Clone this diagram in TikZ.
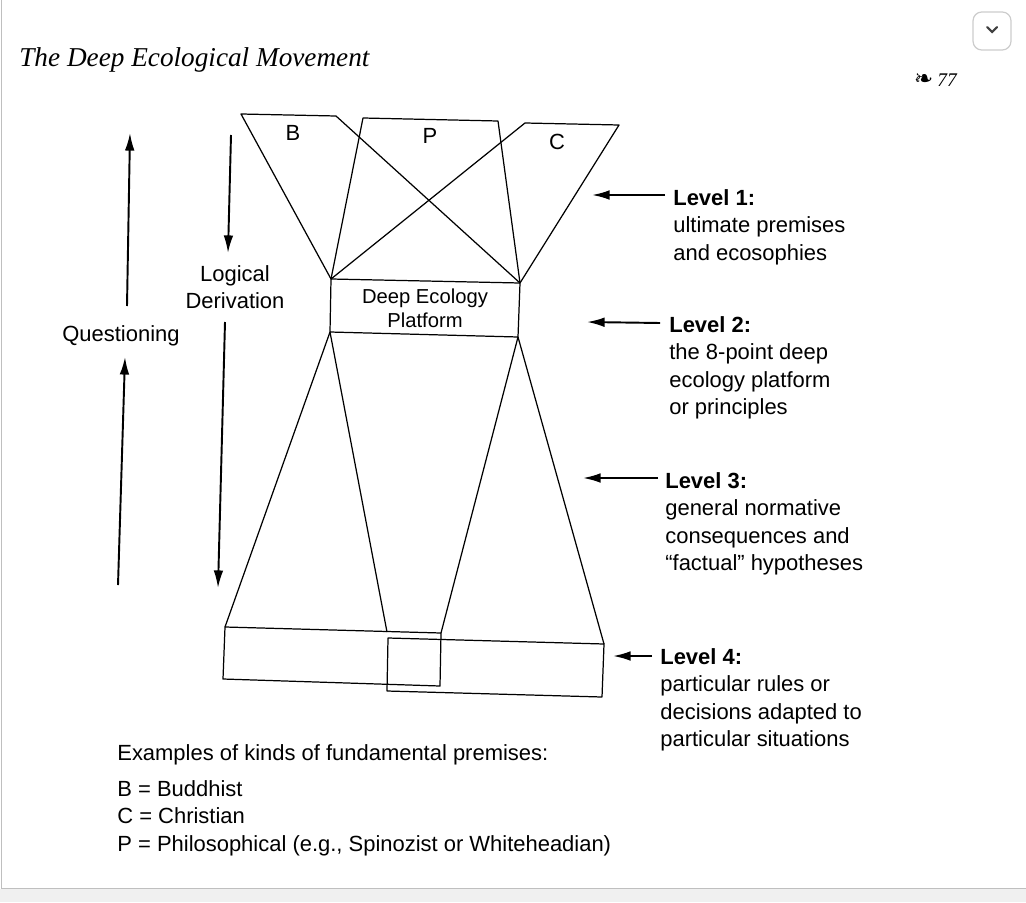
\documentclass[tikz,border=0pt]{standalone}
\usepackage{fontspec}
\setmainfont{Liberation Sans}
\newfontfamily\titlefont{Liberation Serif}
\newfontfamily\ornfont{DejaVu Sans}
\usetikzlibrary{arrows.meta}

\begin{document}
\begin{tikzpicture}[x=0.02cm, y=-0.02cm,
      outline/.style={draw, line width=0.7pt, line join=round},
      arr/.style={line width=1.1pt, -{Latex[length=10pt,width=5.5pt]}},
      lbl/.style={inner sep=0pt, font=\fontsize{12.5}{15.6}\selectfont},
      levtext/.style={lbl, anchor=north west, align=left}]
      \useasboundingbox (0,0) rectangle (1026,902);
      \fill[black!6] (0,889) rectangle (1026,902);
      \draw[black!25, line width=0.8pt] (1.5,-2) -- (1.5,888.5) -- (1028,888.5);
      \draw[black!20, rounded corners=5pt, line width=0.7pt] (973,12) rectangle (1011,50);
      \draw[black!75, line width=1.2pt, line cap=round] (987,27) -- (992,32) -- (997,27);
      \node[anchor=west, inner sep=0pt, font=\titlefont\itshape\fontsize{15.5}{18}\selectfont] (title) at (19,60) {The Deep Ecological Movement};
      \node[anchor=west, inner sep=0pt, font=\titlefont\itshape\fontsize{11}{13}\selectfont] (page) at (937,80) {77};
      \node[anchor=east, inner sep=2pt, font=\ornfont\fontsize{13}{14}\selectfont] (orn) at (page.west) {\char"2767};
      % premises
      \coordinate (b1) at (241,114); \coordinate (b2) at (336,116);
      \coordinate (p1) at (363,118); \coordinate (p2) at (498,121);
      \coordinate (c1) at (525,123); \coordinate (c2) at (619,125);
      \coordinate (ptl) at (331,279); \coordinate (ptr) at (520,283);
      \coordinate (pbr) at (518,337); \coordinate (pbl) at (330,332);
      \draw[outline] (ptl) -- (b1) -- (b2) -- (ptr);
      \draw[outline] (ptl) -- (p1) -- (p2) -- (ptr);
      \draw[outline] (ptl) -- (c1) -- (c2) -- (ptr);
      \draw[outline] (ptl) -- (ptr) -- (pbr) -- (pbl) -- cycle;
      \node[lbl] (B) at (293,133) {B};
      \node[lbl] (P) at (430,136) {P};
      \node[lbl] (C) at (557,142) {C};
      \node[inner sep=0pt, align=center, font=\fontsize{11.5}{13.6}\selectfont] (platform) at (425,308) {Deep Ecology\\Platform};
      % level 4 boxes
      \coordinate (la) at (225,627); \coordinate (lm) at (387,632);
      \coordinate (lb) at (441,633); \coordinate (lc) at (440,686);
      \coordinate (ld) at (223,679);
      \coordinate (ra) at (388,638); \coordinate (rb) at (604,644);
      \coordinate (rc) at (602,697); \coordinate (rd) at (387,691);
      \draw[outline] (pbl) -- (la); \draw[outline] (pbl) -- (lm);
      \draw[outline] (pbr) -- (lb); \draw[outline] (pbr) -- (rb);
      \draw[outline] (la) -- (lb) -- (lc) -- (ld) -- cycle;
      \draw[outline] (ra) -- (rb) -- (rc) -- (rd) -- cycle;
      % left arrows
      \node[lbl] (quest) at (121,336) {Questioning};
      \node[lbl, align=center] (logic) at (235,287) {Logical\\Derivation};
      \coordinate (q1) at (127,306); \coordinate (q2) at (130,133);
      \coordinate (q3) at (118,585); \coordinate (q4) at (125,357);
      \coordinate (d1) at (231,135); \coordinate (d2) at (228,253);
      \coordinate (d3) at (225,322); \coordinate (d4) at (218,588);
      \draw[arr] (q1) -- (q2);
      \draw[arr] (q3) -- (q4);
      \draw[arr] (d1) -- (d2);
      \draw[arr] (d3) -- (d4);
      % levels
      \node[levtext] (lev1) at (673,189) {\textbf{Level 1:}\\ultimate premises\\and ecosophies};
      \node[levtext] (lev2) at (669,316) {\textbf{Level 2:}\\the 8-point deep\\ecology platform\\or principles};
      \node[levtext] (lev3) at (665,472) {\textbf{Level 3:}\\general normative\\consequences and\\“factual” hypotheses};
      \node[levtext] (lev4) at (660,648) {\textbf{Level 4:}\\particular rules or\\decisions adapted to\\particular situations};
      \coordinate (t1) at (665,195); \coordinate (h1) at (592,195);
      \coordinate (t2) at (660,323); \coordinate (h2) at (587,322);
      \coordinate (t3) at (658,478); \coordinate (h3) at (583,478);
      \coordinate (t4) at (652,656); \coordinate (h4) at (613,656);
      \draw[arr] (t1) -- (h1);
      \draw[arr] (t2) -- (h2);
      \draw[arr] (t3) -- (h3);
      \draw[arr] (t4) -- (h4);
      % legend
      \node[levtext] (examples) at (117,744) {Examples of kinds of fundamental premises:};
      \node[levtext] (keys) at (117,780) {B = Buddhist\\C = Christian\\P = Philosophical (e.g., Spinozist or Whiteheadian)};
    \end{tikzpicture}
\end{document}
